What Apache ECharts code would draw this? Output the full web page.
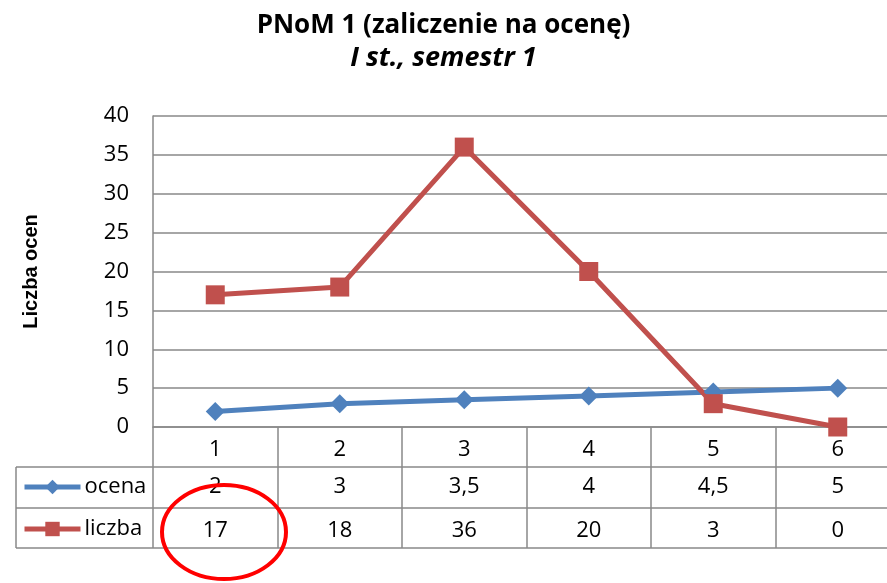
<!DOCTYPE html>
<html>
<head>
<meta charset="utf-8">
<script src="https://cdn.jsdelivr.net/npm/echarts@6/dist/echarts.min.js"></script>
<style>
  html, body { margin: 0; padding: 0; background: #fff; }
  #chart { width: 887px; height: 583px; }
</style>
</head>
<body>
<div id="chart"></div>
<script>
// dane z wykresu
var categories = ["1", "2", "3", "4", "5", "6"];
var ocena = [2, 3, 3.5, 4, 4.5, 5];
var liczba = [17, 18, 36, 20, 3, 0];
var yTicks = { min: 0, max: 40, step: 5 };

var FONT = "Open Sans";
var GRID = "#898989";
var BLUE = "#4F81BD";
var RED = "#C0504D";

function fmt(v) {
  return String(v).replace(".", ",");
}

function legendFor(name, top) {
  return {
    data: [name],
    left: 22,
    top: top,
    padding: 0,
    itemWidth: 56,
    itemHeight: 18,
    itemGap: 4,
    lineStyle: { width: 5 },
    textStyle: { fontFamily: FONT, fontSize: 22, color: "#000", padding: [0, 0, 0, -1] }
  };
}

var chart = echarts.init(document.getElementById("chart"));

chart.setOption({
  animation: false,
  textStyle: { fontFamily: FONT },
  title: {
    text: "PNoM 1 (zaliczenie na ocenę)",
    subtext: "I st., semestr 1",
    left: "center",
    top: 8,
    itemGap: 6,
    textStyle: { fontFamily: FONT, fontSize: 26, fontWeight: "bold", color: "#000" },
    subtextStyle: { fontFamily: FONT, fontSize: 27, fontWeight: "bold", fontStyle: "italic", color: "#000" }
  },
  legend: [legendFor("ocena", 476), legendFor("liczba", 518)],
  grid: { left: 153, top: 116, right: -13, height: 311, outerBoundsMode: "none", containLabel: false },
  xAxis: [
    {
      // wiersz kategorii
      type: "category",
      data: categories,
      position: "bottom",
      offset: 0,
      axisLine: { lineStyle: { color: GRID, width: 1.5 } },
      axisTick: { show: true, length: 121, lineStyle: { color: GRID, width: 1.5 } },
      axisLabel: { fontSize: 22, color: "#000", margin: 12 }
    },
    {
      // wiersz ocena
      type: "category",
      data: ocena.map(fmt),
      position: "bottom",
      offset: 40,
      axisLine: { show: false },
      axisTick: { show: false },
      axisLabel: { fontSize: 22, color: "#000", margin: 9 }
    },
    {
      // wiersz liczba
      type: "category",
      data: liczba.map(fmt),
      position: "bottom",
      offset: 81,
      axisLine: { show: false },
      axisTick: { show: false },
      axisLabel: { fontSize: 22, color: "#000", margin: 12 }
    }
  ],
  yAxis: {
    type: "value",
    min: yTicks.min,
    max: yTicks.max,
    interval: yTicks.step,
    name: "Liczba ocen",
    nameLocation: "middle",
    nameRotate: 90,
    nameGap: 112,
    nameTextStyle: { fontFamily: "Liberation Sans", fontSize: 20, fontWeight: "bold", color: "#000" },
    axisLine: { show: true, lineStyle: { color: GRID, width: 1.5 } },
    axisTick: { show: false },
    axisLabel: { fontSize: 22, color: "#000", margin: 24 },
    splitLine: { lineStyle: { color: GRID, width: 1.5 } }
  },
  series: [
    {
      name: "ocena",
      type: "line",
      data: ocena,
      symbol: "diamond",
      symbolSize: 19,
      lineStyle: { color: BLUE, width: 5 },
      itemStyle: { color: BLUE }
    },
    {
      name: "liczba",
      type: "line",
      data: liczba,
      symbol: "rect",
      symbolSize: 19,
      lineStyle: { color: RED, width: 5 },
      itemStyle: { color: RED }
    }
  ],
  graphic: [
    // linie poziome tabeli
    { type: "line", shape: { x1: 16, y1: 467, x2: 900, y2: 467 }, style: { stroke: GRID, lineWidth: 1.5 } },
    { type: "line", shape: { x1: 16, y1: 508, x2: 900, y2: 508 }, style: { stroke: GRID, lineWidth: 1.5 } },
    { type: "line", shape: { x1: 16, y1: 548, x2: 900, y2: 548 }, style: { stroke: GRID, lineWidth: 1.5 } },
    { type: "line", shape: { x1: 16, y1: 467, x2: 16, y2: 548 }, style: { stroke: GRID, lineWidth: 1.5 } },
    // czerwona elipsa
    {
      type: "ellipse",
      z: 100,
      shape: { cx: 224, cy: 532, rx: 62, ry: 47 },
      style: { fill: "none", stroke: "#FF0000", lineWidth: 4 }
    }
  ]
});
</script>
</body>
</html>
